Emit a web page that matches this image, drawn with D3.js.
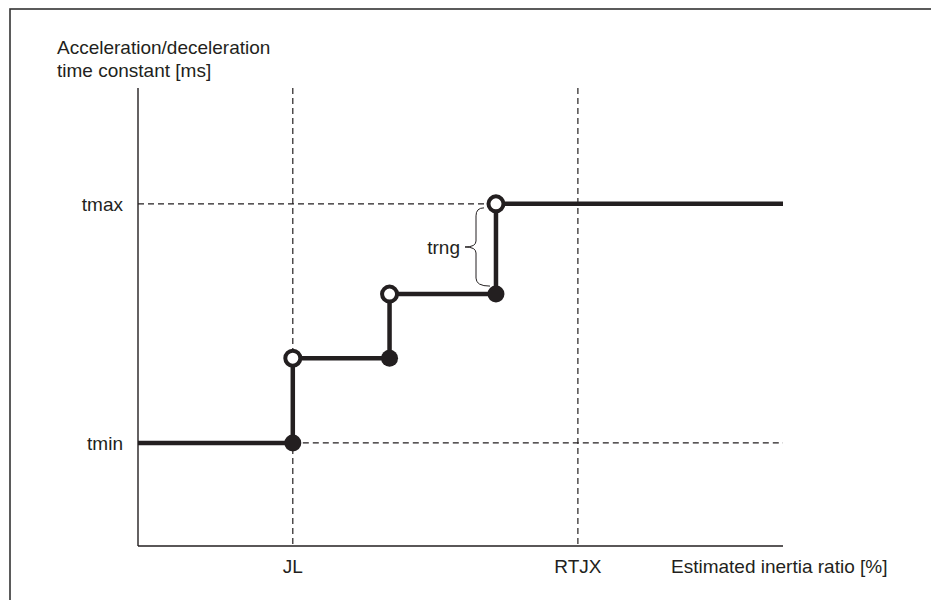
<!DOCTYPE html>
<html><head><meta charset="utf-8">
<script src="https://cdn.jsdelivr.net/npm/d3@7"></script>
<style>body{margin:0;background:#fff}svg{display:block}text{font-family:"Liberation Sans",Arial,sans-serif;fill:#231f20}</style>
</head><body><svg id="c" width="931" height="600"></svg>
<script>
// Data
const xMarks = [{label:"JL", value:24}, {label:"RTJX", value:68.2}];
const yMarks = [{label:"tmax", value:74.7}, {label:"tmin", value:22.5}];
const stepX = [0, 24, 39, 55.5, 100];
const stepY = [22.5, 41, 55, 74.7, 74.7];
const filledPts = [[24,22.5],[39,41],[55.5,55]];
const openPts = [[24,41],[39,55],[55.5,74.7]];
const yTitle = ["Acceleration/deceleration","time constant [ms]"];
const xTitle = "Estimated inertia ratio [%]";
const braceLabel = "trng";

const svg = d3.select("#c");
const ink = "#231f20";
const fs = 19;
const x = d3.scaleLinear().domain([0,100]).range([138,783]);
const y = d3.scaleLinear().domain([0,100]).range([546,88]);

// border
svg.append("rect").attr("x",10).attr("y",9).attr("width",940).attr("height",620)
  .attr("fill","none").attr("stroke","#333").attr("stroke-width",1.6);

// axes
svg.append("line").attr("x1",x(0)).attr("x2",x(0)).attr("y1",y(100)).attr("y2",y(0)).attr("stroke",ink).attr("stroke-width",1.4);
svg.append("line").attr("x1",x(0)).attr("x2",x(100)).attr("y1",y(0)).attr("y2",y(0)).attr("stroke",ink).attr("stroke-width",1.4);

// dashed guides
const dash = "6,4";
xMarks.forEach(m=>{
  svg.append("line").attr("x1",x(m.value)).attr("x2",x(m.value)).attr("y1",y(100)).attr("y2",y(0))
    .attr("stroke",ink).attr("stroke-width",1.2).attr("stroke-dasharray",dash);
  svg.append("text").attr("x",x(m.value)).attr("y",y(0)+27).attr("text-anchor","middle")
    .attr("font-size",fs).text(m.label);
});
svg.append("line").attr("x1",x(0)).attr("x2",x(100)).attr("y1",y(yMarks[0].value)).attr("y2",y(yMarks[0].value))
  .attr("stroke",ink).attr("stroke-width",1.2).attr("stroke-dasharray",dash);
svg.append("line").attr("x1",x(xMarks[0].value)).attr("x2",x(100)).attr("y1",y(yMarks[1].value)).attr("y2",y(yMarks[1].value))
  .attr("stroke",ink).attr("stroke-width",1.2).attr("stroke-dasharray",dash);
yMarks.forEach(m=>{
  svg.append("text").attr("x",123).attr("y",y(m.value)+7).attr("text-anchor","end")
    .attr("font-size",fs).text(m.label);
});

// titles
svg.append("text").attr("font-size",fs)
  .selectAll("tspan").data(yTitle).join("tspan").attr("x",57).attr("y",(d,i)=>54+i*23).text(d=>d);
svg.append("text").attr("x",671).attr("y",y(0)+27).attr("font-size",fs).text(xTitle);

// step line
const pts = stepX.map((v,i)=>[v,stepY[i]]);
svg.append("path").attr("d", d3.line().x(d=>x(d[0])).y(d=>y(d[1])).curve(d3.curveStepAfter)(pts))
  .attr("fill","none").attr("stroke",ink).attr("stroke-width",4.5);

// brace
const bx = 476, bt = y(74.7)+4, bb = y(55)-8, bm = (bt+bb)/2;
svg.append("path").attr("d",
  `M${bx+8},${bt} Q${bx},${bt} ${bx},${bt+8} L${bx},${bm-6} Q${bx},${bm} ${bx-11},${bm} Q${bx},${bm} ${bx},${bm+6} L${bx},${bb-8} Q${bx},${bb} ${bx+14},${bb}`)
  .attr("fill","none").attr("stroke",ink).attr("stroke-width",1);
svg.append("text").attr("x",bx-16).attr("y",bm+7).attr("text-anchor","end").attr("font-size",fs).text(braceLabel);

// points
svg.selectAll("circle.f").data(filledPts).join("circle").attr("class","f")
  .attr("cx",d=>x(d[0])).attr("cy",d=>y(d[1])).attr("r",8.5).attr("fill",ink);
svg.selectAll("circle.o").data(openPts).join("circle").attr("class","o")
  .attr("cx",d=>x(d[0])).attr("cy",d=>y(d[1])).attr("r",7.5).attr("fill","#fff").attr("stroke",ink).attr("stroke-width",4);
</script></body></html>
